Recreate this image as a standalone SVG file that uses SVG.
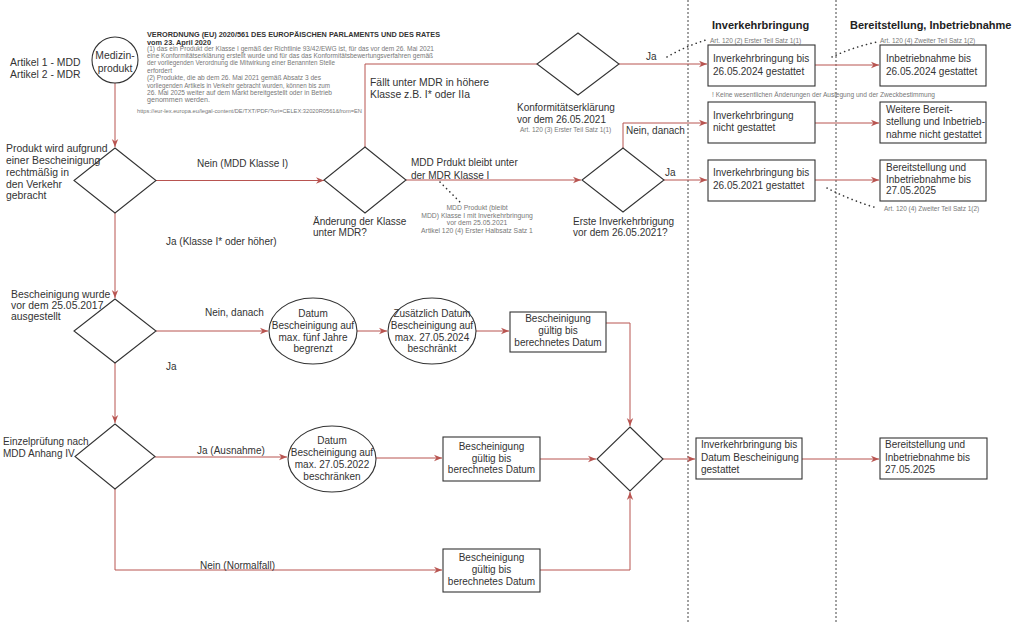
<svg xmlns="http://www.w3.org/2000/svg" width="1024" height="624" viewBox="0 0 1024 624">
<defs>
<style>
text{font-family:"Liberation Sans",Arial,sans-serif;fill:#333;font-size:10px}
.lg{font-size:10.4px}
.sm{font-size:6.5px;fill:#777}
.hd{font-size:11px;font-weight:bold;fill:#222}
.tb{font-size:7px;font-weight:bold;fill:#333}
.c{text-anchor:middle}
.shape{fill:#fff;stroke:#333;stroke-width:1.1}
.edge{fill:none;stroke:#b85450;stroke-width:1}
.arr{marker-end:url(#ah)}
.dot{fill:none;stroke:#333;stroke-width:1.6;stroke-dasharray:0.1 4.5;stroke-linecap:round}
.sep{stroke:#444;stroke-width:1;stroke-dasharray:2 2}
</style>
<marker id="ah" viewBox="0 0 10 10" refX="10" refY="5" markerWidth="8" markerHeight="8" markerUnits="userSpaceOnUse" orient="auto">
<path d="M0,1 L10,5 L0,9 L3,5 z" fill="#b85450"/>
</marker>
</defs>
<rect width="1024" height="624" fill="#fff"/>

<!-- lane separators -->
<g id="separators">
<line class="sep" x1="688" y1="0" x2="688" y2="624"/>
<line class="sep" x1="836" y1="0" x2="836" y2="624"/>
</g>

<!-- headings and notes -->
<g id="headers">
<text class="hd" x="712" y="29">Inverkehrbringung</text>
<text class="hd" x="850" y="29">Bereitstellung, Inbetriebnahme</text>
<text class="lg" x="10" y="66">Artikel 1 - MDD</text>
<text class="lg" x="10" y="78">Artikel 2 - MDR</text>
</g>

<g id="regulation-note">
<text class="tb" x="147" y="37" textLength="293" lengthAdjust="spacingAndGlyphs">VERORDNUNG (EU) 2020/561 DES EUROPÄISCHEN PARLAMENTS UND DES RATES</text>
<text class="tb" x="147" y="44.5" style="font-size:7.5px" textLength="64" lengthAdjust="spacingAndGlyphs">vom 23. April 2020</text>
<text class="sm" x="147" y="50.5" textLength="287" lengthAdjust="spacingAndGlyphs">(1)  das ein Produkt der Klasse I gemäß der Richtlinie 93/42/EWG ist, für das vor dem 26. Mai 2021</text>
<text class="sm" x="147" y="57.5" textLength="286" lengthAdjust="spacingAndGlyphs">eine Konformitätserklärung erstellt wurde und für das das Konformitätsbewertungsverfahren gemäß</text>
<text class="sm" x="147" y="65" textLength="188" lengthAdjust="spacingAndGlyphs">der vorliegenden Verordnung die Mitwirkung einer Benannten Stelle</text>
<text class="sm" x="147" y="72.5" textLength="25" lengthAdjust="spacingAndGlyphs">erfordert</text>
<text class="sm" x="147" y="80" textLength="174" lengthAdjust="spacingAndGlyphs">(2) Produkte, die ab dem 26. Mai 2021 gemäß Absatz 3 des</text>
<text class="sm" x="147" y="87.5" textLength="183" lengthAdjust="spacingAndGlyphs">vorliegenden Artikels in Verkehr gebracht wurden, können bis zum</text>
<text class="sm" x="147" y="95" textLength="185" lengthAdjust="spacingAndGlyphs">26. Mai 2025 weiter auf dem Markt bereitgestellt oder in Betrieb</text>
<text class="sm" x="147" y="102" textLength="63" lengthAdjust="spacingAndGlyphs">genommen werden.</text>
<text class="sm" x="137" y="113" textLength="225" lengthAdjust="spacingAndGlyphs" style="font-size:6px">https://eur-lex.europa.eu/legal-content/DE/TXT/PDF/?uri=CELEX:32020R0561&amp;from=EN</text>
</g>

<!-- connectors -->
<g id="connectors">
<path class="edge arr" d="M115,82 V147"/>
<path class="edge arr" d="M156,180.5 H324"/>
<path class="edge" d="M365,147 V64 H537"/>
<path class="edge arr" d="M619,64 H707"/>
<path class="edge arr" d="M406,180 H581"/>
<path class="edge arr" d="M623,148 V123 H707"/>
<path class="edge arr" d="M663,180 H707"/>
<path class="edge arr" d="M815,65 H879"/>
<path class="edge arr" d="M815,123 H879"/>
<path class="edge arr" d="M815,180 H879"/>
<path class="edge arr" d="M115,213 V298"/>
<path class="edge arr" d="M156,331 H268"/>
<path class="edge arr" d="M357,331 H387"/>
<path class="edge arr" d="M476,331 H509"/>
<path class="edge arr" d="M606,323 H630 V426"/>
<path class="edge arr" d="M115,363 V423"/>
<path class="edge arr" d="M155,457 H287"/>
<path class="edge arr" d="M376,458 H442"/>
<path class="edge arr" d="M540,459 H596"/>
<path class="edge arr" d="M115,489 V570 H442"/>
<path class="edge arr" d="M540,570 H630 V492"/>
<path class="edge arr" d="M663,459 H695"/>
<path class="edge arr" d="M802,459 H879"/>
<path class="dot" d="M667,57 Q686,46 706,40"/>
<path class="dot" d="M832,57 Q853,47 877,42"/>
<path class="dot" d="M827,188 Q850,200 877,208"/>
<path class="dot" d="M440,182 L460,202"/>
</g>

<!-- connector labels -->
<g id="edge-labels">
<text x="197" y="167">Nein (MDD Klasse I)</text>
<text x="166" y="245">Ja (Klasse I* oder höher)</text>
<text class="lg" x="370" y="86">Fällt unter MDR in höhere</text>
<text class="lg" x="370" y="98">Klasse z.B. I* oder IIa</text>
<text x="411" y="166">MDD Prdukt bleibt unter</text>
<text x="411" y="179">der MDR Klasse I</text>
<text class="sm c" x="477" y="210" style="font-size:6.8px">MDD Produkt (bleibt</text>
<text class="sm c" x="477" y="217.5" style="font-size:6.8px">MDD) Klasse I mit Inverkehrbringung</text>
<text class="sm c" x="477" y="225" style="font-size:6.8px">vor dem 25.05.2021</text>
<text class="sm c" x="477" y="232.5" style="font-size:6.8px">Artikel 120 (4) Erster Halbsatz Satz 1</text>
<text x="646" y="60">Ja</text>
<text class="sm" x="710" y="43">Art. 120 (2)  Erster Teil Satz 1(1)</text>
<text class="sm" x="880" y="43">Art. 120 (4)  Zweiter Teil Satz 1(2)</text>
<text class="sm" x="884" y="211">Art. 120 (4)  Zweiter Teil Satz 1(2)</text>
<text class="sm" x="712" y="97" textLength="223" lengthAdjust="spacingAndGlyphs">! Keine wesentlichen Änderungen der Auslegung und der Zweckbestimmung</text>
<text x="626" y="134">Nein, danach</text>
<text x="665" y="176">Ja</text>
<text x="205" y="316">Nein, danach</text>
<text x="166" y="370">Ja</text>
<text x="197" y="454">Ja (Ausnahme)</text>
<text x="200" y="569">Nein (Normalfall)</text>
</g>

<!-- nodes -->
<g id="n-medizinprodukt">
<circle class="shape" cx="115" cy="60" r="23"/>
<text class="c lg" x="115" y="59">Medizin-</text>
<text class="c lg" x="115" y="72">produkt</text>
</g>

<g id="n-bescheinigung-verkehr">
<polygon class="shape" points="115,148 156,180.5 115,213 74,180.5"/>
<text class="lg" x="6" y="152">Produkt wird aufgrund</text>
<text class="lg" x="6" y="164">einer Bescheinigung</text>
<text class="lg" x="6" y="176">rechtmäßig in</text>
<text class="lg" x="6" y="187.5">den Verkehr</text>
<text class="lg" x="6" y="199">gebracht</text>
</g>

<g id="n-aenderung-klasse">
<polygon class="shape" points="365,147 406,180 365,213 324,180"/>
<text x="313" y="225">Änderung der Klasse</text>
<text x="313" y="236">unter MDR?</text>
</g>

<g id="n-konformitaet">
<polygon class="shape" points="578,33 619,64 578,95 537,64"/>
<text x="517" y="111">Konformitätserklärung</text>
<text x="517" y="123">vor dem 26.05.2021</text>
<text class="sm" x="520" y="132">Art. 120 (3) Erster Teil Satz 1(1)</text>
</g>

<g id="n-erste-inverkehr">
<polygon class="shape" points="623,148 664,180 623,212 582,180"/>
<text x="573" y="225">Erste Inverkehrbrigung</text>
<text x="573" y="236">vor dem 26.05.2021?</text>
</g>

<g id="n-ivb-2024">
<rect class="shape" x="708" y="45" width="107" height="41"/>
<text x="713" y="62">Inverkehrbringung bis</text>
<text x="713" y="75">26.05.2024 gestattet</text>
</g>
<g id="n-ibn-2024">
<rect class="shape" x="880" y="45" width="106" height="41"/>
<text x="886" y="62">Inbetriebnahme bis</text>
<text x="886" y="75">26.05.2024 gestattet</text>
</g>
<g id="n-ivb-nicht">
<rect class="shape" x="708" y="102" width="107" height="41"/>
<text x="713" y="119">Inverkehrbringung</text>
<text x="713" y="131">nicht gestattet</text>
</g>
<g id="n-bereit-nicht">
<rect class="shape" x="880" y="102" width="106" height="41"/>
<text x="886" y="112.5">Weitere Bereit-</text>
<text x="886" y="125">stellung und Inbetrieb-</text>
<text x="886" y="137.5">nahme nicht gestattet</text>
</g>
<g id="n-ivb-2021">
<rect class="shape" x="708" y="160" width="107" height="41"/>
<text x="713" y="176">Inverkehrbringung bis</text>
<text x="713" y="189">26.05.2021 gestattet</text>
</g>
<g id="n-bereit-2025a">
<rect class="shape" x="880" y="160" width="106" height="41"/>
<text x="886" y="171">Bereitstellung und</text>
<text x="886" y="182.5">Inbetriebnahme bis</text>
<text x="886" y="194">27.05.2025</text>
</g>

<g id="n-bescheinigung-2017">
<polygon class="shape" points="115,299 156,331 115,363 74,331"/>
<text class="lg" x="11" y="298">Bescheinigung wurde</text>
<text class="lg" x="11" y="309">vor dem 25.05.2017</text>
<text class="lg" x="11" y="320">ausgestellt</text>
</g>
<g id="n-fuenf-jahre">
<ellipse class="shape" cx="313" cy="331" rx="44" ry="33"/>
<text class="c" x="313" y="317">Datum</text>
<text class="c" x="313" y="329">Bescheinigung auf</text>
<text class="c" x="313" y="341">max. fünf Jahre</text>
<text class="c" x="313" y="352">begrenzt</text>
</g>
<g id="n-zusaetzlich-2024">
<ellipse class="shape" cx="432" cy="331" rx="44" ry="33"/>
<text class="c" x="432" y="317">Zusätzlich Datum</text>
<text class="c" x="432" y="329">Bescheinigung auf</text>
<text class="c" x="432" y="341">max. 27.05.2024</text>
<text class="c" x="432" y="352">beschränkt</text>
</g>
<g id="n-gueltig-1">
<rect class="shape" x="510" y="312" width="96" height="40"/>
<text class="c" x="558" y="322">Bescheinigung</text>
<text class="c" x="558" y="334">gültig bis</text>
<text class="c" x="558" y="346">berechnetes Datum</text>
</g>

<g id="n-einzelpruefung">
<polygon class="shape" points="115,424 155,456.5 115,489 75,456.5"/>
<text x="3" y="445">Einzelprüfung nach</text>
<text x="3" y="457">MDD Anhang IV</text>
</g>
<g id="n-datum-2022">
<ellipse class="shape" cx="332" cy="459" rx="44" ry="33"/>
<text class="c" x="332" y="444">Datum</text>
<text class="c" x="332" y="456">Bescheinigung auf</text>
<text class="c" x="332" y="468">max. 27.05.2022</text>
<text class="c" x="332" y="480">beschränken</text>
</g>
<g id="n-gueltig-2">
<rect class="shape" x="443" y="437" width="97" height="44"/>
<text class="c" x="491.5" y="450">Bescheinigung</text>
<text class="c" x="491.5" y="461.5">gültig bis</text>
<text class="c" x="491.5" y="473">berechnetes Datum</text>
</g>
<g id="n-gueltig-3">
<rect class="shape" x="443" y="549" width="97" height="43"/>
<text class="c" x="491.5" y="561">Bescheinigung</text>
<text class="c" x="491.5" y="572.5">gültig bis</text>
<text class="c" x="491.5" y="585">berechnetes Datum</text>
</g>
<g id="n-merge">
<polygon class="shape" points="630,427 663,459 630,491 597,459"/>
</g>
<g id="n-ivb-datum">
<rect class="shape" x="696" y="438" width="106" height="41"/>
<text x="701" y="448">Inverkehrbringung bis</text>
<text x="701" y="461">Datum Bescheinigung</text>
<text x="701" y="473">gestattet</text>
</g>
<g id="n-bereit-2025b">
<rect class="shape" x="880" y="438" width="107" height="41"/>
<text x="885" y="448">Bereitstellung und</text>
<text x="885" y="461">Inbetriebnahme bis</text>
<text x="885" y="473">27.05.2025</text>
</g>
</svg>
